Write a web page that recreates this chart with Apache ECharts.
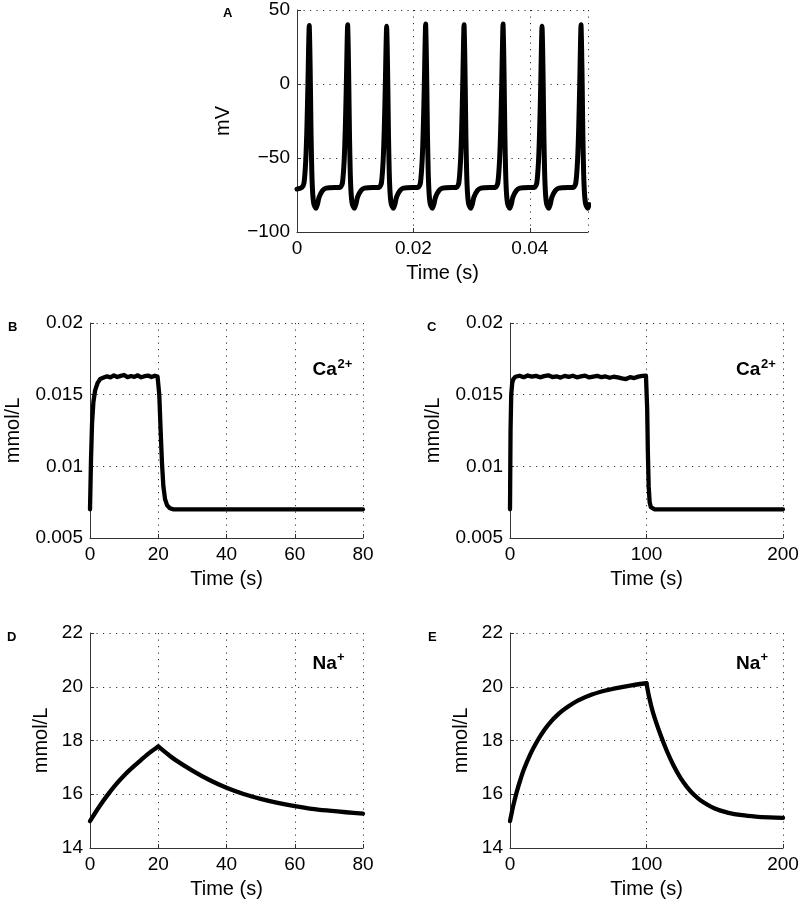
<!DOCTYPE html>
<html lang="en">
  <head>
    <meta charset="UTF-8" />
    <title>Action potential and ion concentrations</title>
    <script src="https://cdn.jsdelivr.net/npm/echarts@6.0.0/dist/echarts.min.js"></script>
    <style>
      html,
      body {
        width: 100%;
        height: 100%;
        margin: 0;
        padding: 0;
        background: #fff;
      }
    </style>
  </head>
  <body>
    <div id="main" style="width: 800px; height: 903px"></div>
    <script type="text/javascript">
      // A: membrane potential, 8 spikes (time in s, mV)
      var apTime = [
        0, 0.0008, 0.0012, 0.0015, 0.0017, 0.00188, 0.002, 0.0021, 0.0022, 0.0023, 0.00242, 0.00255, 0.0027, 0.0029, 0.00325, 0.0035, 0.0038, 0.0044, 0.005, 0.0065,
        0.0074, 0.0078, 0.0081, 0.0083, 0.00848, 0.0086, 0.0087, 0.0088, 0.0089, 0.00902, 0.00915, 0.0093, 0.0095, 0.00985, 0.0101, 0.0104, 0.011, 0.0116, 0.0131,
        0.0141, 0.0145, 0.0148, 0.015, 0.01518, 0.0153, 0.0154, 0.0155, 0.0156, 0.01572, 0.01585, 0.016, 0.0162, 0.01655, 0.0168, 0.0171, 0.0177, 0.0183, 0.0198,
        0.0208, 0.0212, 0.0215, 0.0217, 0.02188, 0.022, 0.0221, 0.0222, 0.0223, 0.02242, 0.02255, 0.0227, 0.0229, 0.02325, 0.0235, 0.0238, 0.0244, 0.025, 0.0265,
        0.0274, 0.0278, 0.0281, 0.0283, 0.02848, 0.0286, 0.0287, 0.0288, 0.0289, 0.02902, 0.02915, 0.0293, 0.0295, 0.02985, 0.0301, 0.0304, 0.031, 0.0316, 0.0331,
        0.0341, 0.0345, 0.0348, 0.035, 0.03518, 0.0353, 0.0354, 0.0355, 0.0356, 0.03572, 0.03585, 0.036, 0.0362, 0.03655, 0.0368, 0.0371, 0.0377, 0.0383, 0.0398,
        0.0408, 0.0412, 0.0415, 0.0417, 0.04188, 0.042, 0.0421, 0.0422, 0.0423, 0.04242, 0.04255, 0.0427, 0.0429, 0.04325, 0.0435, 0.0438, 0.0444, 0.045, 0.0465,
        0.0475, 0.0479, 0.0482, 0.0484, 0.04858, 0.0487, 0.0488, 0.0489, 0.049, 0.04912, 0.04925, 0.0494, 0.0496, 0.04995, 0.0502
      ];
      var apVolt = [
        -71, -70, -67, -52, -30, 0, 25, 39.5, 25, 0, -35, -60, -74, -81, -84, -81.5, -76.5, -72, -70.4, -70,
        -70, -67, -52, -30, 0, 25, 40, 25, 0, -35, -60, -74, -81, -84, -81.5, -76.5, -72, -70.4, -70,
        -70, -67, -52, -30, 0, 25, 39, 25, 0, -35, -60, -74, -81, -84, -81.5, -76.5, -72, -70.4, -70,
        -70, -67, -52, -30, 0, 25, 40.5, 25, 0, -35, -60, -74, -81, -84, -81.5, -76.5, -72, -70.4, -70,
        -70, -67, -52, -30, 0, 25, 40, 25, 0, -35, -60, -74, -81, -84, -81.5, -76.5, -72, -70.4, -70,
        -70, -67, -52, -30, 0, 25, 40.5, 25, 0, -35, -60, -74, -81, -84, -81.5, -76.5, -72, -70.4, -70,
        -70, -67, -52, -30, 0, 25, 39, 25, 0, -35, -60, -74, -81, -84, -81.5, -76.5, -72, -70.4, -70,
        -70, -67, -52, -30, 0, 25, 40, 25, 0, -35, -60, -74, -81, -84, -81.5
      ];

      // B: Ca2+, 20 s stimulation (s, mmol/L)
      var caShortTime = [
        0, 0.3, 0.6, 1.0, 1.5, 2.2, 3, 4,
        5, 6, 7, 8, 9, 10, 11, 12, 13, 14, 15, 16, 17, 18, 19, 19.8,
        20.0, 20.3, 20.7, 21.1, 21.5, 22.0, 22.6, 23.4, 24.5, 30, 40, 50, 60, 70, 80
      ];
      var caShortConc = [
        0.007, 0.0105, 0.013, 0.0145, 0.0153, 0.0158, 0.0161, 0.0162,
        0.01628, 0.01621, 0.01634, 0.01623, 0.01631, 0.01637, 0.01622, 0.0163, 0.01624, 0.01635, 0.01621, 0.01629, 0.01633, 0.01623, 0.01632, 0.01626,
        0.0163, 0.015, 0.0125, 0.0102, 0.0086, 0.0077, 0.00728, 0.00708, 0.007, 0.007, 0.007, 0.007, 0.007, 0.007, 0.007
      ];

      // C: Ca2+, 100 s stimulation
      var caLongTime = [
        0, 0.4, 0.9, 1.6, 2.5,
        4, 7, 10, 13, 16, 19, 22, 25, 28, 31, 34, 37, 40, 43, 46, 49, 52, 55, 58, 61, 64, 67, 70, 73, 76, 79, 82, 85, 88, 91, 94, 97, 99.6,
        100.0, 100.5, 101.0, 101.6, 102.3, 103.2, 104.5, 106, 120, 140, 160, 180, 200
      ];
      var caLongConc = [
        0.007, 0.0125, 0.015, 0.0158, 0.0161,
        0.01625, 0.01632, 0.01622, 0.01634, 0.01626, 0.01631, 0.01621, 0.01629, 0.01635, 0.01623, 0.01628, 0.01619, 0.01631, 0.01624, 0.01632, 0.01621, 0.01627,
        0.01633, 0.0162, 0.01626, 0.01631, 0.01622, 0.01627, 0.01618, 0.01625, 0.01621, 0.01614, 0.01609, 0.01622, 0.01616, 0.01626, 0.01631, 0.01633,
        0.0163, 0.014, 0.011, 0.0086, 0.0075, 0.00715, 0.00702, 0.007, 0.007, 0.007, 0.007, 0.007, 0.007
      ];

      // D: Na+, 20 s stimulation
      var naShortTime = [0, 2.5, 5, 7.5, 10, 12.5, 15, 17.5, 20, 22.5, 25, 30, 35, 40, 45, 50, 55, 60, 65, 70, 75, 80];
      var naShortConc = [15.0, 15.5, 15.95, 16.35, 16.7, 17.0, 17.28, 17.55, 17.78, 17.52, 17.28, 16.88, 16.53, 16.24, 16.01, 15.83, 15.68, 15.56, 15.46, 15.39, 15.33, 15.28];

      // E: Na+, 100 s stimulation
      var naLongTime = [0, 2.5, 5, 7.5, 10, 15, 20, 25, 30, 35, 40, 50, 60, 70, 80, 90, 100, 102, 105, 110, 115, 120, 125, 130, 135, 140, 150, 160, 170, 180, 190, 200];
      var naLongConc = [15.0, 15.6, 16.1, 16.52, 16.9, 17.5, 17.98, 18.38, 18.7, 18.96, 19.17, 19.49, 19.71, 19.86, 19.97, 20.06, 20.13, 19.6, 19.0, 18.25, 17.6, 17.05, 16.6, 16.25, 15.97, 15.76, 15.47, 15.31, 15.22, 15.17, 15.14, 15.12];

      var stimEndShort = 20;
      var stimEndLong = 100;

      var FONT = "Liberation Sans, Arial, Helvetica, sans-serif";
      var AX = "#333";

      function zip(t, v) {
        return t.map(function (x, i) {
          return [x, v[i]];
        });
      }
      // split a trace at the end of stimulation so the corner stays sharp
      function splitAt(t, v, tEnd) {
        var k = t.indexOf(tEnd);
        return [zip(t.slice(0, k + 1), v.slice(0, k + 1)), zip(t.slice(k), v.slice(k))];
      }

      var myChart = echarts.init(document.getElementById("main"));

      var grids = [
        { left: 297, top: 10, width: 291, height: 222 },
        { left: 90, top: 323, width: 273, height: 215 },
        { left: 510, top: 323, width: 273, height: 215 },
        { left: 90, top: 633, width: 273, height: 215 },
        { left: 510, top: 633, width: 273, height: 215 },
      ].map(function (g) {
        g.show = false;
        g.outerBoundsMode = "none";
        g.containLabel = false;
        return g;
      });

      var dotted = { color: AX, width: 1, type: [1.2, 5.3] };

      function xAx(i, max, step, lastLabel) {
        return {
          type: "value",
          gridIndex: i,
          min: 0,
          max: max,
          interval: step,
          name: "Time (s)",
          nameLocation: "middle",
          nameGap: 31,
          nameMoveOverlap: false,
          nameTextStyle: { fontSize: 20, color: "#000", fontFamily: FONT },
          axisLine: { show: true, onZero: false, lineStyle: { color: AX, width: 1 } },
          axisTick: { show: true, inside: true, length: 4, lineStyle: { color: AX } },
          axisLabel: {
            fontSize: 19,
            color: "#000",
            fontFamily: FONT,
            margin: 7,
            showMaxLabel: lastLabel,
            hideOverlap: false,
          },
          splitLine: { show: true, lineStyle: dotted },
        };
      }

      function yAx(i, min, max, step, name, gap) {
        return {
          type: "value",
          gridIndex: i,
          min: min,
          max: max,
          interval: step,
          name: name,
          nameLocation: "middle",
          nameGap: gap,
          nameMoveOverlap: false,
          nameTextStyle: { fontSize: 20, color: "#000", fontFamily: FONT },
          axisLine: { show: true, onZero: false, lineStyle: { color: AX, width: 1 } },
          axisTick: { show: true, inside: true, length: 4, lineStyle: { color: AX } },
          axisLabel: {
            fontSize: 19,
            color: "#000",
            fontFamily: FONT,
            margin: 7,
            formatter: function (v) {
              return String(v).replace("-", "\u2212");
            },
          },
          splitLine: { show: true, lineStyle: dotted },
        };
      }

      function line(i, data, smooth, w) {
        return {
          type: "line",
          xAxisIndex: i,
          yAxisIndex: i,
          data: data,
          showSymbol: false,
          symbol: "none",
          smooth: smooth,
          clip: true,
          silent: true,
          lineStyle: { color: "#000", width: w, cap: "round", join: "round" },
        };
      }

      var naShort = splitAt(naShortTime, naShortConc, stimEndShort);
      var naLong = splitAt(naLongTime, naLongConc, stimEndLong);

      function label(text, x, y, size) {
        return {
          type: "text",
          x: x,
          y: y,
          silent: true,
          style: {
            text: text,
            font: "bold " + size + "px " + FONT,
            fill: "#000",
            verticalAlign: "middle",
            align: "left",
          },
        };
      }

      option = {
        backgroundColor: "#fff",
        animation: false,
        grid: grids,
        xAxis: [
          xAx(0, 0.05, 0.02, false),
          xAx(1, 80, 20, true),
          xAx(2, 200, 100, true),
          xAx(3, 80, 20, true),
          xAx(4, 200, 100, true),
        ],
        yAxis: [
          yAx(0, -100, 50, 50, "mV", 64),
          yAx(1, 0.005, 0.02, 0.005, "mmol/L", 67),
          yAx(2, 0.005, 0.02, 0.005, "mmol/L", 67),
          yAx(3, 14, 22, 2, "mmol/L", 39),
          yAx(4, 14, 22, 2, "mmol/L", 39),
        ],
        series: [
          line(0, zip(apTime, apVolt), 0.2, 5),
          line(1, zip(caShortTime, caShortConc), false, 4.3),
          line(2, zip(caLongTime, caLongConc), false, 4.3),
          line(3, naShort[0], 0.3, 4.3),
          line(3, naShort[1], 0.3, 4.3),
          line(4, naLong[0], 0.3, 4.3),
          line(4, naLong[1], 0.3, 4.3),
        ],
        graphic: [
          // panel letters
          label("A", 223, 13, 13),
          label("B", 8, 327, 13),
          label("C", 427, 327, 13),
          label("D", 7, 637, 13),
          label("E", 428, 637, 13),
          // ion labels
          label("Ca", 312.5, 370, 19),
          label("2+", 337.5, 364, 13),
          label("Ca", 736, 370, 19),
          label("2+", 761, 364, 13),
          label("Na", 312.5, 664, 19),
          label("+", 337, 657.8, 13),
          label("Na", 736, 664, 19),
          label("+", 760.5, 657.8, 13),
        ],
      };
      myChart.setOption(option);
    </script>
  </body>
</html>
